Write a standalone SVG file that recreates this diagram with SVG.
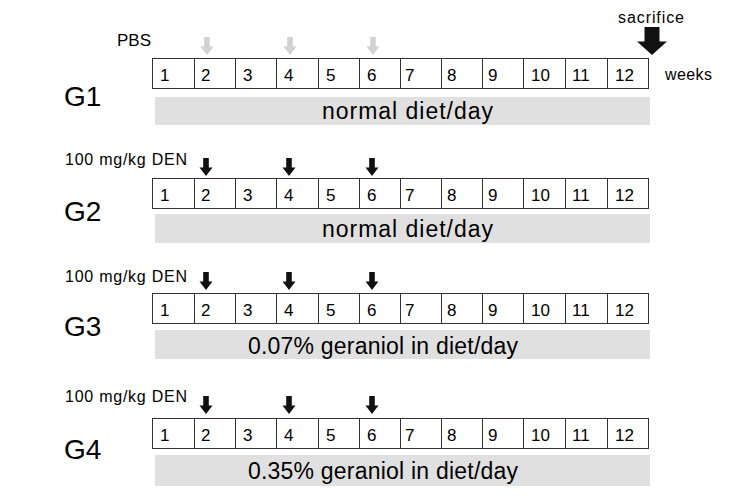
<svg xmlns="http://www.w3.org/2000/svg" xmlns:xlink="http://www.w3.org/1999/xlink" width="750" height="500" viewBox="0 0 750 500">
<style>
  text { font-family: "Liberation Sans", "Noto Sans CJK JP", Arial, sans-serif; fill: #000; }
  .box { fill: #fff; stroke: #333; stroke-width: 1; }
  .cell { stroke: #333; stroke-width: 1; }
  .num { font-size: 17px; }
  .bar { fill: #e0e0e0; }
  .diet { font-size: 23px; }
  .glabel { font-size: 28px; }
  .small { font-size: 16px; }
  .lbl { font-size: 16px; }
  .garrow { fill: #d2d2d2; }
  .barrow { fill: #111; }
</style>
<defs>
  <path id="arr" d="M-2.8,-18 H2.8 V-8.5 H6.5 L0,0 L-6.5,-8.5 H-2.8 Z"/>
  <path id="bigarr" d="M-7.5,-28 H7.5 V-13.5 H15 L0,0 L-15,-13.5 H-7.5 Z"/>
  <g id="timeline">
    <rect class="box" x="152.5" y="0" width="496" height="30"/>
    <path class="cell" d="M194.5,0V30M235.5,0V30M276.5,0V30M318.5,0V30M359.5,0V30M400.5,0V30M441.5,0V30M482.5,0V30M523.5,0V30M565.5,0V30M607.5,0V30"/>
    <g class="num">
      <text x="160" y="22">1</text>
      <text x="201" y="22">2</text>
      <text x="243" y="22">3</text>
      <text x="284" y="22">4</text>
      <text x="326" y="22">5</text>
      <text x="367" y="22">6</text>
      <text x="405" y="22">7</text>
      <text x="447" y="22">8</text>
      <text x="488" y="22">9</text>
      <text x="531" y="22">10</text>
      <text x="572" y="22">11</text>
      <text x="615" y="22">12</text>
    </g>
  </g>
</defs>
<rect width="750" height="500" fill="#fff"/>

<g id="G1">
  <text class="lbl" x="117" y="46" textLength="34" lengthAdjust="spacingAndGlyphs">PBS</text>
  <use xlink:href="#arr" class="garrow" x="207" y="55"/>
  <use xlink:href="#arr" class="garrow" x="290" y="55"/>
  <use xlink:href="#arr" class="garrow" x="373" y="55"/>
  <use xlink:href="#timeline" y="58.5"/>
  <text class="glabel" x="64" y="106">G1</text>
  <rect class="bar" x="155" y="97" width="495" height="28"/>
  <text class="diet" x="322" y="119" textLength="171" lengthAdjust="spacing">normal diet/day</text>
</g>

<g id="sacrifice">
  <text class="lbl" x="618" y="23" textLength="66" lengthAdjust="spacing">sacrifice</text>
  <use xlink:href="#bigarr" class="barrow" x="652" y="55"/>
  <text class="lbl" x="665" y="80" textLength="47" lengthAdjust="spacing">weeks</text>
</g>

<g id="G2">
  <text class="small" x="65" y="165" textLength="122" lengthAdjust="spacing">100 mg/kg DEN</text>
  <use xlink:href="#arr" class="barrow" x="206" y="176"/>
  <use xlink:href="#arr" class="barrow" x="289" y="176"/>
  <use xlink:href="#arr" class="barrow" x="372" y="176"/>
  <use xlink:href="#timeline" y="178.5"/>
  <text class="glabel" x="64" y="221">G2</text>
  <rect class="bar" x="155" y="214" width="495" height="29"/>
  <text class="diet" x="322" y="237" textLength="171" lengthAdjust="spacing">normal diet/day</text>
</g>

<g id="G3">
  <text class="small" x="65" y="282" textLength="122" lengthAdjust="spacing">100 mg/kg DEN</text>
  <use xlink:href="#arr" class="barrow" x="206" y="290"/>
  <use xlink:href="#arr" class="barrow" x="289" y="290"/>
  <use xlink:href="#arr" class="barrow" x="372" y="290"/>
  <use xlink:href="#timeline" y="293.5"/>
  <text class="glabel" x="64" y="336">G3</text>
  <rect class="bar" x="155" y="330" width="495" height="29"/>
  <text class="diet" x="248" y="354" textLength="270" lengthAdjust="spacing">0.07% geraniol in diet/day</text>
</g>

<g id="G4">
  <text class="small" x="65" y="402" textLength="122" lengthAdjust="spacing">100 mg/kg DEN</text>
  <use xlink:href="#arr" class="barrow" x="206" y="414"/>
  <use xlink:href="#arr" class="barrow" x="289" y="414"/>
  <use xlink:href="#arr" class="barrow" x="372" y="414"/>
  <use xlink:href="#timeline" y="418.5"/>
  <text class="glabel" x="64" y="459">G4</text>
  <rect class="bar" x="155" y="455" width="495" height="31"/>
  <text class="diet" x="248" y="479" textLength="270" lengthAdjust="spacing">0.35% geraniol in diet/day</text>
</g>
</svg>
